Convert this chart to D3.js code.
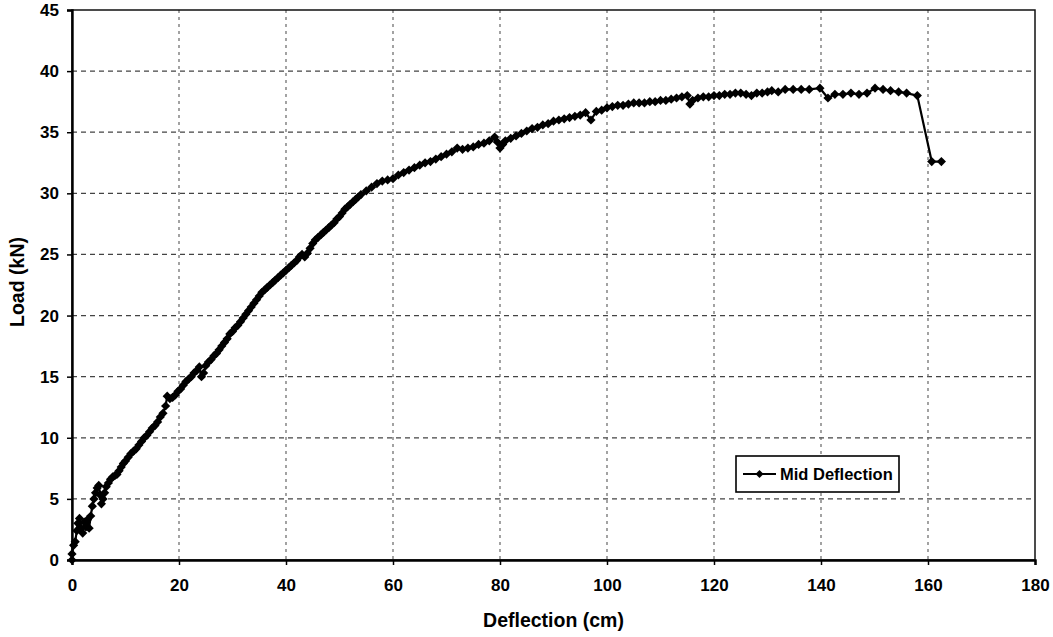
<!DOCTYPE html>
<html>
<head>
<meta charset="utf-8">
<script src="https://cdn.jsdelivr.net/npm/d3@7"></script>
<style>
    body { margin: 0; background: #fff; }
    #chart-area text { font-family: "Liberation Sans", Arial, sans-serif; font-weight: bold; fill: #000; }
</style>
</head>
<body>
<div id="chart-area"></div>
<script>

// Mid deflection (cm) and load (kN)
var deflection = [
    0, 0, 0.3, 0.6, 0.9, 1.1, 1.4, 1.7, 2.0, 2.3, 2.6, 2.9, 3.2, 3.5, 3.8, 4.1, 4.4, 4.7, 5.0, 5.3,
    5.5, 5.8, 6.1, 6.4, 6.8, 7.2, 7.6, 8.0, 8.4, 8.8, 9.2, 9.6, 10.0, 10.5, 11.0, 11.5, 12.0, 12.5, 13.0, 13.5,
    14.0, 14.5, 15.0, 15.5, 16.0, 16.5, 17.0, 17.5, 17.8, 18.3, 18.8, 19.3, 19.8, 20.3, 20.8, 21.3, 21.8, 22.3, 22.8, 23.3,
    23.8, 24.2, 24.6, 25.0, 25.5, 26.0, 26.5, 27.0, 27.5, 28.0, 28.5, 29.0, 29.5, 30.0, 30.5, 31.0, 31.5, 32.0, 32.5, 33.0,
    33.5, 34.0, 34.5, 35.0, 35.5, 36.0, 36.5, 37.0, 37.5, 38.0, 38.5, 39.0, 39.5, 40.0, 40.5, 41.0, 41.5, 42.0, 42.5, 43.0,
    43.5, 44.0, 44.5, 45.0, 45.5, 46.0, 46.5, 47.0, 47.5, 48.0, 48.5, 49.0, 49.5, 50.0, 50.5, 51.0, 51.5, 52.0, 52.5, 53.0,
    53.5, 54.0, 55.0, 56.0, 57.0, 58.0, 59.0, 60.0, 61.0, 62.0, 63.0, 64.0, 65.0, 66.0, 67.0, 68.0, 69.0, 70.0, 71.0, 72.0,
    73.0, 74.0, 75.0, 76.0, 77.0, 78.0, 79.0, 79.5, 80.0, 80.5, 81.0, 82.0, 83.0, 84.0, 85.0, 86.0, 87.0, 88.0, 89.0, 90.0,
    91.0, 92.0, 93.0, 94.0, 95.0, 96.0, 97.0, 98.0, 99.0, 100.0, 101.0, 102.0, 103.0, 104.0, 105.0, 106.0, 107.0, 108.0, 109.0, 110.0,
    111.0, 112.0, 113.0, 114.0, 115.0, 115.5, 116.0, 117.0, 118.0, 119.0, 120.0, 121.0, 122.0, 123.0, 124.0, 125.0, 126.0, 127.0, 128.0, 129.0,
    130.0, 130.8, 132.0, 133.3, 134.8, 136.3, 137.8, 139.8, 141.3, 142.6, 144.1, 145.6, 147.1, 148.6, 150.1, 151.6, 153.0, 154.5, 156.0, 158.0,
    160.7, 162.5
];

var load = [
    0, 0.5, 1.2, 1.5, 2.4, 3.0, 3.4, 2.6, 2.2, 3.1, 2.7, 3.3, 2.6, 3.6, 4.4, 5.0, 5.5, 5.9, 6.1, 5.3,
    4.6, 5.0, 5.5, 6.0, 6.3, 6.6, 6.8, 6.9, 7.0, 7.3, 7.6, 7.9, 8.1, 8.4, 8.7, 8.9, 9.1, 9.4, 9.7, 10.0,
    10.2, 10.5, 10.8, 11.0, 11.3, 11.7, 12.0, 12.6, 13.4, 13.2, 13.3, 13.5, 13.8, 14.0, 14.3, 14.6, 14.8, 15.0, 15.3, 15.5,
    15.8, 15.0, 15.3, 15.9, 16.2, 16.4, 16.7, 16.9, 17.2, 17.5, 17.8, 18.1, 18.5, 18.7, 19.0, 19.2, 19.5, 19.8, 20.1, 20.4,
    20.7, 21.0, 21.3, 21.6, 21.9, 22.1, 22.3, 22.5, 22.7, 22.9, 23.1, 23.3, 23.5, 23.7, 23.9, 24.1, 24.3, 24.5, 24.8, 25.0,
    24.8, 25.1, 25.5, 25.9, 26.2, 26.4, 26.6, 26.8, 27.0, 27.2, 27.4, 27.6, 27.9, 28.1, 28.4, 28.7, 28.9, 29.1, 29.3, 29.5,
    29.7, 29.9, 30.2, 30.5, 30.8, 31.0, 31.1, 31.2, 31.5, 31.7, 31.9, 32.1, 32.3, 32.5, 32.6, 32.8, 33.0, 33.2, 33.4, 33.7,
    33.6, 33.7, 33.8, 34.0, 34.1, 34.3, 34.6, 34.2, 33.7, 34.0, 34.3, 34.5, 34.7, 34.9, 35.1, 35.3, 35.4, 35.6, 35.7, 35.9,
    36.0, 36.1, 36.2, 36.3, 36.4, 36.6, 36.0, 36.7, 36.8, 37.0, 37.1, 37.2, 37.2, 37.3, 37.4, 37.4, 37.4, 37.5, 37.5, 37.6,
    37.6, 37.7, 37.8, 37.9, 38.0, 37.3, 37.6, 37.8, 37.9, 37.9, 38.0, 38.0, 38.1, 38.1, 38.2, 38.2, 38.1, 38.0, 38.2, 38.2,
    38.3, 38.4, 38.3, 38.5, 38.5, 38.5, 38.5, 38.6, 37.8, 38.1, 38.1, 38.2, 38.1, 38.2, 38.6, 38.5, 38.4, 38.3, 38.2, 38.0,
    32.6, 32.6
];

var xTicks = [0, 20, 40, 60, 80, 100, 120, 140, 160, 180];
var yTicks = [0, 5, 10, 15, 20, 25, 30, 35, 40, 45];
var seriesName = "Mid Deflection";


LoadDeflectionVis = function(_parentElement){
    this.parentElement = _parentElement;
    this.data = deflection.map(function(d, i){ return { x: d, y: load[i] }; });

    this.initVis();
}

LoadDeflectionVis.prototype.initVis = function(){
    var vis = this;

    vis.margin = { top: 10, right: 18, bottom: 77, left: 72 };
    vis.width = 1053 - vis.margin.left - vis.margin.right;
    vis.height = 637 - vis.margin.top - vis.margin.bottom;

    vis.svg = d3.select("#" + vis.parentElement).append("svg")
        .attr("width", 1053)
        .attr("height", 637)
        .append("g")
        .attr("transform", "translate(" + vis.margin.left + "," + vis.margin.top + ")");

    // Scales
    vis.x = d3.scaleLinear().domain([0, 180]).range([0, vis.width]);
    vis.y = d3.scaleLinear().domain([0, 45]).range([vis.height, 0]);

    // diamond marker
    vis.diamond = function(r){
        return "M0," + (-r) + "L" + r + ",0L0," + r + "L" + (-r) + ",0Z";
    };

    vis.updateVis();
}

LoadDeflectionVis.prototype.updateVis = function(){
    var vis = this;

    // Grid lines
    vis.svg.append("g").selectAll("line.hgrid")
        .data(yTicks.slice(1, -1))
        .enter().append("line")
        .attr("class", "hgrid")
        .attr("x1", 0).attr("x2", vis.width)
        .attr("y1", function(d){ return vis.y(d); })
        .attr("y2", function(d){ return vis.y(d); })
        .attr("stroke", "#444")
        .attr("stroke-width", 1.3)
        .attr("stroke-dasharray", "5,4");

    vis.svg.append("g").selectAll("line.vgrid")
        .data(xTicks.slice(1, -1))
        .enter().append("line")
        .attr("class", "vgrid")
        .attr("y1", 0).attr("y2", vis.height)
        .attr("x1", function(d){ return vis.x(d); })
        .attr("x2", function(d){ return vis.x(d); })
        .attr("stroke", "#666")
        .attr("stroke-width", 1.2)
        .attr("stroke-dasharray", "3,4");

    // Plot frame
    vis.svg.append("rect")
        .attr("width", vis.width)
        .attr("height", vis.height)
        .attr("fill", "none")
        .attr("stroke", "#111")
        .attr("stroke-width", 1.5);

    // Axes
    var xAxis = d3.axisBottom(vis.x).tickValues(xTicks).tickSize(5).tickPadding(14);
    var yAxis = d3.axisLeft(vis.y).tickValues(yTicks).tickSize(5).tickPadding(8);

    var gx = vis.svg.append("g")
        .attr("transform", "translate(0," + vis.height + ")")
        .call(xAxis);
    var gy = vis.svg.append("g").call(yAxis);

    [gx, gy].forEach(function(g){
        g.select(".domain").attr("stroke", "#000").attr("stroke-width", 2.4);
        g.selectAll(".tick line").attr("stroke", "#000").attr("stroke-width", 1.5);
        g.selectAll(".tick text").style("font-size", "17px");
    });

    // Axis titles
    vis.svg.append("text")
        .attr("x", vis.width / 2)
        .attr("y", vis.height + 67)
        .attr("text-anchor", "middle")
        .style("font-size", "19.5px")
        .text("Deflection (cm)");

    vis.svg.append("text")
        .attr("transform", "translate(" + (-48) + "," + (vis.height / 2 - 3) + ") rotate(-90)")
        .attr("text-anchor", "middle")
        .style("font-size", "19.5px")
        .text("Load (kN)");

    // Series line + markers
    var line = d3.line()
        .x(function(d){ return vis.x(d.x); })
        .y(function(d){ return vis.y(d.y); });

    vis.svg.append("path")
        .datum(vis.data)
        .attr("d", line)
        .attr("fill", "none")
        .attr("stroke", "#000")
        .attr("stroke-width", 2.2);

    vis.svg.append("g").selectAll("path.marker")
        .data(vis.data)
        .enter().append("path")
        .attr("class", "marker")
        .attr("transform", function(d){ return "translate(" + vis.x(d.x) + "," + vis.y(d.y) + ")"; })
        .attr("d", vis.diamond(4.6))
        .attr("fill", "#000");

    // Legend
    var legend = vis.svg.append("g")
        .attr("transform", "translate(" + (736 - vis.margin.left) + "," + (456 - vis.margin.top) + ")");

    legend.append("rect")
        .attr("width", 163)
        .attr("height", 36)
        .attr("fill", "#fff")
        .attr("stroke", "#000")
        .attr("stroke-width", 1.6);

    legend.append("line")
        .attr("x1", 7).attr("x2", 40)
        .attr("y1", 18).attr("y2", 18)
        .attr("stroke", "#000")
        .attr("stroke-width", 1.8);

    legend.append("path")
        .attr("transform", "translate(23.5,18)")
        .attr("d", vis.diamond(4))
        .attr("fill", "#000");

    legend.append("text")
        .attr("x", 44)
        .attr("y", 24)
        .style("font-size", "16.5px")
        .text(seriesName);
}

var chart = new LoadDeflectionVis("chart-area");

</script>
</body>
</html>
